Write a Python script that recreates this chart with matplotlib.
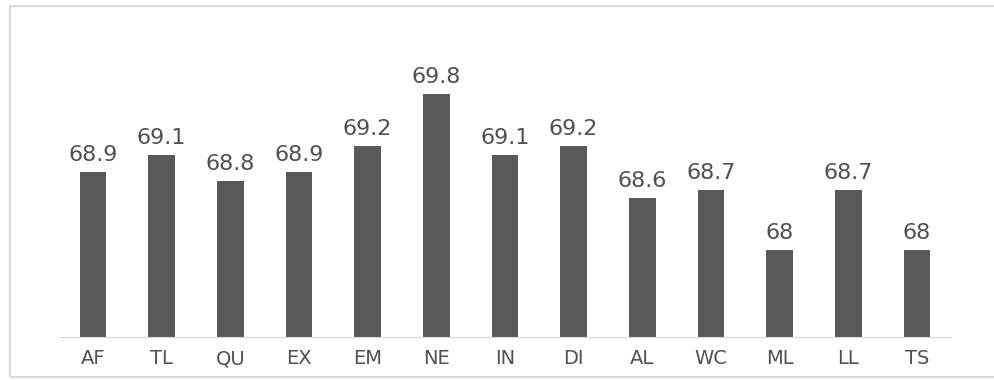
import numpy as np
import matplotlib
matplotlib.use("Agg")
import matplotlib.pyplot as plt
from matplotlib.patches import Rectangle

cats = ["AF", "TL", "QU", "EX", "EM", "NE", "IN", "DI", "AL", "WC", "ML", "LL", "TS"]
vals = [68.9, 69.1, 68.8, 68.9, 69.2, 69.8, 69.1, 69.2, 68.6, 68.7, 68.0, 68.7, 68.0]
base = 67

fig = plt.figure(figsize=(9.95, 3.8), dpi=100)
# light frame around the chart
fig.patches.append(Rectangle((10 / 995, 3 / 380), 1.2, 371 / 380, transform=fig.transFigure,
                             fill=False, edgecolor="#d9d9d9", linewidth=1.5))
ax = fig.add_axes([0.059, 0.1132, 0.897, 0.808])

x = np.arange(len(cats))
heights = [v - base for v in vals]
ax.bar(x, heights, bottom=base, width=0.39, color="#595959")
for xi, v in zip(x, vals):
    lab = "%g" % v
    ax.text(xi, v + 0.08, lab, ha="center", va="bottom", fontsize=16,
            color="#505050", fontweight="medium")

ax.set_xlim(-0.5, 12.5)
ax.set_ylim(base, 70.54)
ax.set_xticks(x)
ax.set_xticklabels(cats, fontsize=14, color="#505050")
ax.tick_params(axis="x", length=0, pad=9)
ax.set_yticks([])
for s in ["top", "right", "left"]:
    ax.spines[s].set_visible(False)
ax.spines["bottom"].set_color("#d9d9d9")

fig.savefig("out.png", dpi=100)
